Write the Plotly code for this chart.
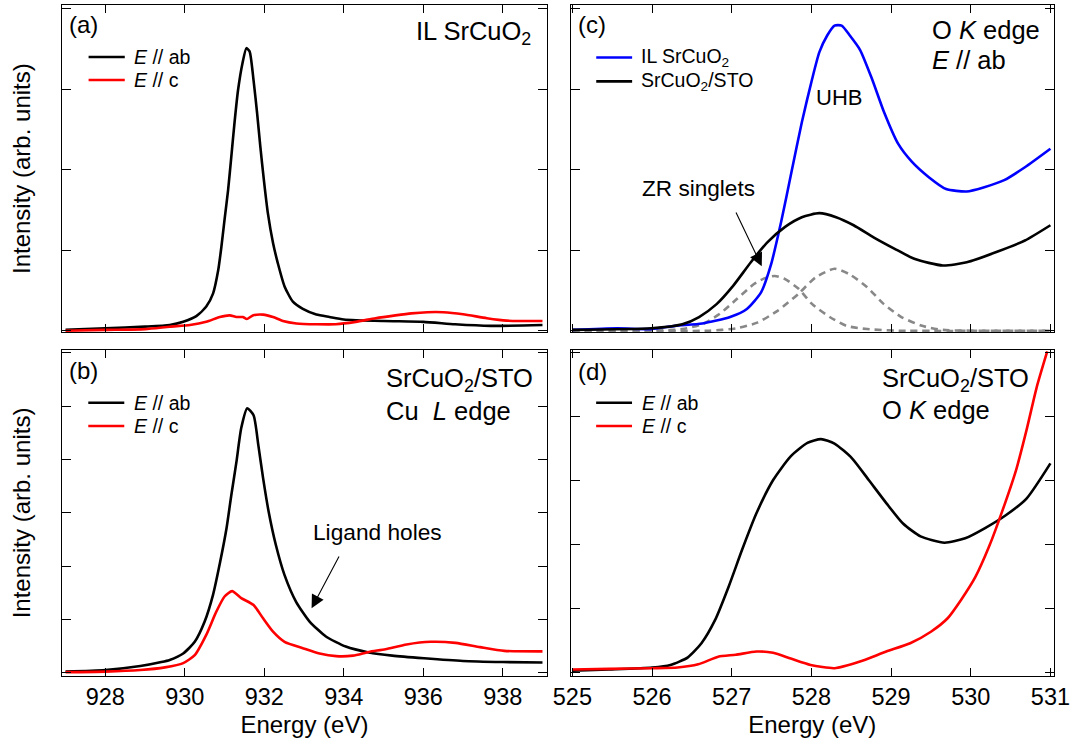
import plotly.graph_objects as go
from plotly.subplots import make_subplots

# ---------------- data ----------------
# (a) IL SrCuO2, Cu L edge
E_a_ab = [927.0, 928.0, 929.0, 929.62, 929.96, 930.29, 930.54, 930.71, 930.84, 930.92, 931.0, 931.09,
          931.17, 931.25, 931.34, 931.45, 931.55, 931.63, 931.73, 931.82, 931.9, 931.99, 932.09, 932.22,
          932.34, 932.51, 932.72, 932.97, 933.31, 933.64, 934.0, 935.0, 936.0, 936.8, 937.7, 939.0]
I_a_ab = [0.01, 0.03, 0.05, 0.07, 0.11, 0.18, 0.30, 0.46, 0.75, 1.04, 1.38, 1.75,
          2.16, 2.58, 2.99, 3.32, 3.51, 3.47, 3.11, 2.70, 2.29, 1.87, 1.46, 1.09,
          0.84, 0.55, 0.36, 0.27, 0.20, 0.17, 0.14, 0.12, 0.11, 0.08, 0.06, 0.07]
E_a_c = [927.0, 928.0, 929.0, 929.62, 930.13, 930.54, 930.88, 931.13, 931.3, 931.46, 931.56, 931.71,
         931.97, 932.22, 932.47, 932.81, 933.31, 933.8, 934.3, 934.8, 935.3, 935.7, 936.1, 936.5,
         937.0, 937.6, 938.1, 939.0]
I_a_c = [0.0, 0.01, 0.02, 0.05, 0.07, 0.11, 0.17, 0.19, 0.17, 0.17, 0.145, 0.19,
         0.20, 0.17, 0.12, 0.09, 0.08, 0.08, 0.11, 0.155, 0.19, 0.215, 0.23, 0.23,
         0.205, 0.155, 0.125, 0.12]

# (b) SrCuO2/STO, Cu L edge
E_b_ab = [927.0, 928.0, 928.88, 929.41, 929.62, 929.96, 930.25, 930.5, 930.71, 930.89, 931.05, 931.17,
          931.3, 931.42, 931.57, 931.73, 931.85, 931.97, 932.11, 932.29, 932.51, 932.8, 933.14, 933.55,
          934.05, 934.63, 935.22, 936.02, 937.0, 938.0, 939.0]
I_b_ab = [0.02, 0.05, 0.125, 0.20, 0.24, 0.36, 0.58, 0.96, 1.46, 2.08, 2.71, 3.33,
          3.96, 4.59, 4.96, 4.83, 4.27, 3.65, 3.02, 2.40, 1.83, 1.33, 0.96, 0.68,
          0.49, 0.38, 0.32, 0.27, 0.22, 0.20, 0.19]
E_b_c = [927.0, 928.0, 928.88, 929.5, 929.96, 930.25, 930.54, 930.79, 931.0, 931.19, 931.42, 931.73,
         931.97, 932.22, 932.51, 932.97, 933.39, 933.81, 934.23, 934.63, 935.05, 935.58, 936.19, 936.81,
         937.43, 938.04, 939.0]
I_b_c = [0.01, 0.02, 0.05, 0.10, 0.18, 0.33, 0.71, 1.14, 1.43, 1.53, 1.40, 1.27,
         1.02, 0.77, 0.58, 0.46, 0.36, 0.31, 0.32, 0.39, 0.44, 0.53, 0.58, 0.56,
         0.48, 0.41, 0.40]

# (c) O K edge, E // ab
E_c_il = [525.0, 525.56, 525.99, 526.29, 526.63, 526.98, 527.19, 527.37, 527.49, 527.62, 527.75, 527.88,
          528.01, 528.1, 528.2, 528.29, 528.38, 528.48, 528.61, 528.76, 528.91, 529.09, 529.26, 529.47,
          529.69, 529.95, 530.16, 530.42, 530.68, 531.0]
I_c_il = [0.01, 0.03, 0.02, 0.06, 0.09, 0.17, 0.27, 0.48, 0.81, 1.35, 1.97, 2.59,
          3.13, 3.46, 3.67, 3.79, 3.79, 3.67, 3.49, 3.13, 2.72, 2.32, 2.10, 1.91,
          1.76, 1.73, 1.78, 1.87, 2.03, 2.26]
E_c_sto = [525.0, 525.99, 526.38, 526.59, 526.81, 527.02, 527.24, 527.45, 527.67, 527.88, 528.1, 528.31,
           528.53, 528.78, 529.04, 529.3, 529.65, 529.95, 530.33, 530.68, 531.0]
I_c_sto = [0.01, 0.03, 0.08, 0.17, 0.33, 0.56, 0.85, 1.10, 1.29, 1.41, 1.46, 1.41,
           1.31, 1.16, 1.02, 0.89, 0.81, 0.85, 0.98, 1.12, 1.31]
E_zr1 = [525.0, 526.0, 526.38, 526.63, 526.85, 527.06, 527.28, 527.41, 527.54, 527.67, 527.84, 528.01,
         528.23, 528.44, 528.7, 529.1, 531.0]
I_zr1 = [0.0, 0.0, 0.02, 0.08, 0.21, 0.39, 0.58, 0.65, 0.68, 0.64, 0.52, 0.33,
         0.17, 0.06, 0.02, 0.0, 0.0]
E_zr2 = [525.0, 526.72, 527.06, 527.32, 527.58, 527.84, 528.05, 528.29, 528.48, 528.7, 528.91, 529.13,
         529.39, 529.65, 531.0]
I_zr2 = [0.0, 0.0, 0.03, 0.10, 0.25, 0.46, 0.66, 0.77, 0.70, 0.54, 0.33, 0.17,
         0.06, 0.01, 0.0]

# (d) SrCuO2/STO, O K edge
E_d_ab = [525.0, 525.46, 526.0, 526.23, 526.45, 526.62, 526.79, 526.96, 527.13, 527.31, 527.52, 527.74,
          527.95, 528.12, 528.29, 528.51, 528.72, 528.94, 529.15, 529.37, 529.67, 529.93, 530.18, 530.44,
          530.7, 531.0]
I_d_ab = [0.03, 0.05, 0.08, 0.12, 0.24, 0.46, 0.82, 1.34, 1.92, 2.49, 3.01, 3.38,
          3.59, 3.65, 3.58, 3.35, 3.01, 2.65, 2.33, 2.13, 2.03, 2.10, 2.26, 2.46,
          2.72, 3.27]
E_d_c = [525.0, 525.46, 526.0, 526.32, 526.58, 526.83, 527.05, 527.31, 527.52, 527.74, 527.99, 528.29,
         528.6, 528.94, 529.24, 529.5, 529.71, 529.88, 530.06, 530.23, 530.4, 530.57, 530.7, 530.83, 530.96]
I_d_c = [0.05, 0.06, 0.07, 0.08, 0.13, 0.25, 0.28, 0.33, 0.31, 0.22, 0.12, 0.07,
         0.17, 0.33, 0.46, 0.64, 0.85, 1.14, 1.50, 1.97, 2.54, 3.17, 3.79, 4.47, 5.02]

# tick values
cuL_ticks = [928, 930, 932, 934, 936, 938]
oK_ticks = [525, 526, 527, 528, 529, 530, 531]

# ---------------- layout helpers ----------------
W, H = 1077, 744
ML, MR, MT, MB = 62, 22.7, 5, 68
PW, PH = W - ML - MR, H - MT - MB


def px(x):
    return (x - ML) / PW


def py(y):
    return (H - MB - y) / PH


FONT = "Arial, Liberation Sans, sans-serif"
BLACK, RED, BLUE, GRAY = "#000000", "#ff0000", "#0000ff", "#888888"
LW = 2.6

fig = make_subplots(rows=2, cols=2)


def line(x, y, color, name, row, col, dash=None):
    fig.add_trace(go.Scatter(x=x, y=y, mode="lines", name=name, showlegend=False,
                             line=dict(color=color, width=LW, shape="spline", smoothing=0.6,
                                       dash=dash)),
                  row=row, col=col)


line(E_a_ab, I_a_ab, BLACK, "E // ab", 1, 1)
line(E_a_c, I_a_c, RED, "E // c", 1, 1)
line(E_b_ab, I_b_ab, BLACK, "E // ab", 2, 1)
line(E_b_c, I_b_c, RED, "E // c", 2, 1)
line(E_zr1, I_zr1, GRAY, "ZR singlet 1", 1, 2, dash="7px,5px")
line(E_zr2, I_zr2, GRAY, "ZR singlet 2", 1, 2, dash="7px,5px")
line(E_c_il, I_c_il, BLUE, "IL SrCuO2", 1, 2)
line(E_c_sto, I_c_sto, BLACK, "SrCuO2/STO", 1, 2)
line(E_d_ab, I_d_ab, BLACK, "E // ab", 2, 2)
line(E_d_c, I_d_c, RED, "E // c", 2, 2)

axis_common = dict(showgrid=False, zeroline=False, showline=True, linecolor="black", linewidth=1,
                   mirror="ticks", ticks="inside", tickcolor="black", tickwidth=1,
                   tickfont=dict(size=23.5, color="black", family=FONT))

xl = [0, (547 - ML) / PW]
xr = [(570.7 - ML) / PW, 1]
yt = [(H - MB - 332.3) / PH, 1]
yb = [0, (H - MB - 350) / PH]
ytitle = dict(text="Intensity (arb. units)", font=dict(size=24, family=FONT, color="black"), standoff=23)
xtitle = dict(text="Energy (eV)", font=dict(size=24, family=FONT, color="black"), standoff=6)

fig.update_layout(
    xaxis=dict(axis_common, domain=xl, range=[926.91, 939.11], tickvals=cuL_ticks, showticklabels=False,
               ticklen=8, anchor="y"),
    xaxis3=dict(axis_common, domain=xl, range=[926.91, 939.11], tickvals=cuL_ticks, ticklen=8, anchor="y3",
                title=xtitle),
    xaxis2=dict(axis_common, domain=xr, range=[524.977, 531.045], tickvals=oK_ticks, showticklabels=False,
                ticklen=8, anchor="y2"),
    xaxis4=dict(axis_common, domain=xr, range=[524.977, 531.045], tickvals=oK_ticks, ticklen=8, anchor="y4",
                title=xtitle),
    yaxis=dict(axis_common, domain=yt, range=[-0.02, 4.046], tickvals=[0, 1, 2, 3, 4], showticklabels=False,
               ticklen=9, anchor="x", title=ytitle),
    yaxis2=dict(axis_common, domain=yt, range=[-0.02, 4.046], tickvals=[0, 1, 2, 3, 4], showticklabels=False,
                ticklen=9, anchor="x2"),
    yaxis3=dict(axis_common, domain=yb, range=[-0.062, 6.055], tickvals=[0, 1, 2, 3, 4, 5, 6],
                showticklabels=False, ticklen=9, anchor="x3", title=ytitle),
    yaxis4=dict(axis_common, domain=yb, range=[-0.052, 5.042], tickvals=[0, 1, 2, 3, 4, 5],
                showticklabels=False, ticklen=9, anchor="x4"),
)

annotations = []
shapes = []


def txt(text, x, y, size=25.5, xanchor="left"):
    annotations.append(dict(text=text, x=px(x), y=py(y), xref="paper", yref="paper", showarrow=False,
                            xanchor=xanchor, yanchor="middle",
                            font=dict(size=size, family=FONT, color="black")))


def legend_entry(text, color, x0, x1, xt, y):
    shapes.append(dict(type="line", xref="paper", yref="paper", x0=px(x0), x1=px(x1), y0=py(y), y1=py(y),
                       line=dict(color=color, width=LW)))
    txt(text, xt, y, size=19.5)


# legends
legend_entry("<i>E</i> // ab", BLACK, 88.6, 124.8, 132, 57)
legend_entry("<i>E</i> // c", RED, 88.6, 124.8, 132, 80)
legend_entry("<i>E</i> // ab", BLACK, 88.3, 124.3, 132, 402.7)
legend_entry("<i>E</i> // c", RED, 88.3, 124.3, 132, 426)
legend_entry("IL SrCuO<sub>2</sub>", BLUE, 596.4, 632.3, 639.5, 57.5)
legend_entry("SrCuO<sub>2</sub>/STO", BLACK, 596.4, 632.3, 639.5, 81.4)
legend_entry("<i>E</i> // ab", BLACK, 596.3, 632.2, 640, 402.7)
legend_entry("<i>E</i> // c", RED, 596.3, 632.2, 640, 426)

# panel labels and texts
txt("(a)", 67, 24, size=24)
txt("IL SrCuO<sub>2</sub>", 533, 33, xanchor="right")
txt("(b)", 67, 370, size=24)
txt("SrCuO<sub>2</sub>/STO", 384, 380)
txt("Cu  <i>L</i> edge", 384, 411)
txt("(c)", 576, 25, size=24)
txt("O <i>K</i> edge", 930, 30)
txt("<i>E</i> // ab", 930, 60)
txt("UHB", 839, 97, size=22, xanchor="center")
txt("ZR singlets", 698.6, 188, size=22.6, xanchor="center")
txt("(d)", 576, 371, size=24)
txt("SrCuO<sub>2</sub>/STO", 880, 380)
txt("O <i>K</i> edge", 880, 410)
txt("Ligand holes", 377.6, 532, size=22.7, xanchor="center")

# arrows (data coordinates)
annotations.append(dict(x=527.377, y=0.80, ax=527.045, ay=1.487, xref="x2", yref="y2", axref="x2", ayref="y2",
                        text="", showarrow=True, arrowhead=2, arrowsize=2.4, arrowwidth=1.1,
                        arrowcolor="black", standoff=0))
annotations.append(dict(x=933.19, y=1.21, ax=933.90, ay=2.21, xref="x3", yref="y3", axref="x3", ayref="y3",
                        text="", showarrow=True, arrowhead=2, arrowsize=2.4, arrowwidth=1.1,
                        arrowcolor="black", standoff=0))

fig.update_layout(
    annotations=annotations,
    shapes=shapes,
    showlegend=False,
    hovermode=False,
    width=W, height=H,
    margin=dict(l=ML, r=MR, t=MT, b=MB, autoexpand=False),
    paper_bgcolor="white", plot_bgcolor="white",
    font=dict(family=FONT, color="black"),
)

fig.write_html("out.html", config={"displayModeBar": False, "staticPlot": True},
               post_script="document.body.style.margin='0px';")
